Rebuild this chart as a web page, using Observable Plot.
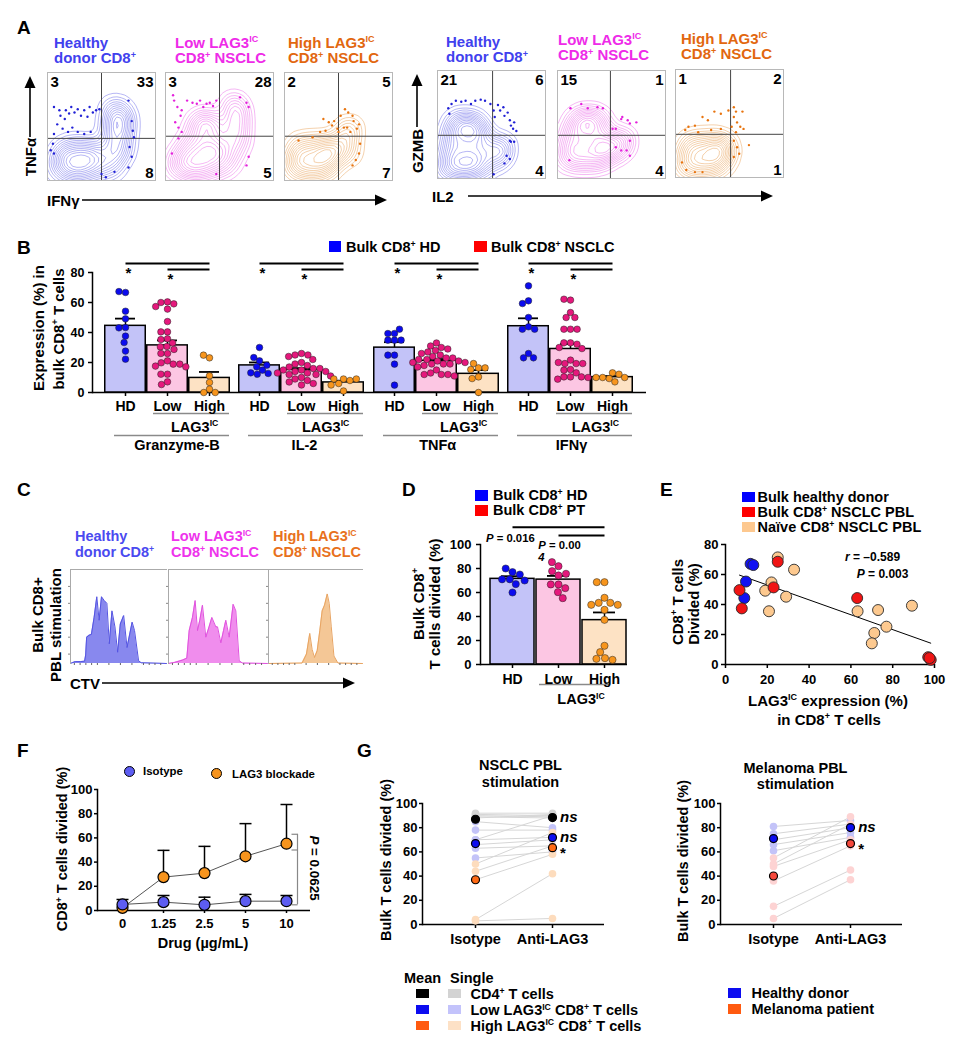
<!DOCTYPE html>
<html><head><meta charset="utf-8">
<script src="https://cdn.jsdelivr.net/npm/d3@7"></script>
<script src="https://cdn.jsdelivr.net/npm/@observablehq/plot@0.6"></script>
<style>
html,body{margin:0;padding:0;background:#fff}
#root{position:relative;width:959px;height:1050px;overflow:hidden;background:#fff}
.t{position:absolute;white-space:nowrap;font-family:"Liberation Sans",Arial,Helvetica,sans-serif;font-weight:bold;color:#000}
.t sup{font-size:60%;vertical-align:baseline;position:relative;top:-0.62em;line-height:0}
.sq{position:absolute}
</style></head><body><div id="root"></div>
<script>
// ================= DATA =================
// Panel A (flow plots, coordinates in % of plot)
const aTopLeft = [3, 3, 2, 21, 15, 1];
const aTopRight = [33, 28, 5, 6, 1, 2];
const aBottomRight = [8, 5, 7, 4, 4, 1];
const aGateX = [50, 50, 50, 51, 49, 51];
const aGateY = [39, 41, 41, 40, 40, 40];
const aCore1 = [[12,12],[22,8],[32,8],[42,10],[14,22],[26,18],[38,20],[20,30],[34,30],[45,24],[62,66],[68,60],[60,52],[70,50],[65,42],[58,34],[68,30],[62,20],[57,12]];
const aCore2 = [[12,15],[22,10],[32,10],[42,12],[18,25],[30,22],[42,25],[25,35],[38,35],[48,30],[55,15],[30,50],[38,55],[45,48],[63,70],[67,60],[64,50],[66,40],[62,28]];
const aCore3 = [[10,12],[20,10],[30,10],[40,12],[12,22],[25,22],[38,22],[45,25],[15,32],[30,32],[42,32],[56,38],[60,48],[58,26]];
const aCore4 = [[10,10],[20,10],[30,10],[40,12],[12,25],[25,25],[38,25],[15,40],[28,42],[40,40],[20,52],[33,50],[56,20],[58,30]];
const aCore5 = [[10,20],[20,18],[32,18],[42,20],[12,32],[25,32],[38,32],[46,30],[15,45],[28,48],[40,45],[22,55],[35,56],[56,28],[60,36]];
const aCore6 = [[10,10],[20,10],[30,10],[40,12],[12,22],[25,22],[38,22],[46,24],[15,32],[30,32],[42,32]];
const aDots1 = [[6,68],[11,65],[12,60],[16,57],[17,65],[20,62],[22,68],[25,63],[28,66],[31,60],[34,65],[37,59],[39,68],[42,63],[45,65],[48,66],[9,52],[14,48],[19,45],[23,49],[28,45],[34,43],[40,45],[6,43],[5,34],[6,25],[3,28],[75,74],[78,55],[79,46],[80,40],[76,31],[78,22],[75,12],[62,8],[50,6],[54,3]];
const aDots2 = [[7,79],[8,74],[11,68],[15,65],[14,60],[20,74],[25,72],[29,71],[32,74],[35,68],[38,71],[41,72],[44,69],[47,74],[9,54],[12,49],[15,45],[69,77],[75,72],[77,68],[12,39],[6,25],[77,22],[75,14],[47,6]];
const aDots3 = [[36,57],[41,54],[44,51],[46,55],[49,48],[52,60],[56,66],[59,63],[63,60],[64,55],[69,52],[67,48],[61,45],[58,49],[38,46],[33,45],[26,40],[13,37],[70,34],[69,25],[66,19],[63,14],[55,49],[50,45]];
const aDots4 = [[44,72],[49,69],[52,63],[53,57],[56,68],[58,63],[61,66],[62,58],[65,61],[67,54],[68,49],[70,46],[71,52],[73,44],[67,35],[68,34],[71,34],[64,21],[67,18],[62,14],[52,4],[10,65],[13,69],[17,72],[22,71],[26,72],[31,69],[35,72],[40,73],[11,60]];
const aDots5 = [[22,69],[28,65],[37,66],[42,65],[12,65],[11,17],[51,46],[54,46],[59,55],[60,57],[65,54],[67,51],[73,52],[59,26],[64,26],[67,21],[67,35],[54,29]];
const aDots6 = [[12,47],[18,48],[25,56],[30,53],[36,61],[42,59],[49,62],[54,65],[56,61],[62,61],[54,56],[57,51],[60,47],[63,45],[52,47],[56,42],[6,14],[10,7],[18,5],[25,5],[54,34],[57,28],[59,22],[54,19],[68,30],[9,44],[21,42],[33,44],[42,45]];

// Panel B (% expression in bulk CD8+ T cells)
const bLevels = ["HD", "Low", "High"];
const bCytokines = ["Granzyme-B", "IL-2", "TNFα", "IFNγ"];
const bGzmHD = [66.7,67.3,54.2,49.1,43.3,43.1,37.6,33.3,27.6,22.2];
const bGzmLow = [60.4,60,59.1,57.3,55.6,47.3,40.4,40.4,35.8,35.3,33,30.7,30.4,28.7,26,26,21.1,19.8,18.9,18.9,17.6,17.1,12.2,12.2,7.1,5.3];
const bGzmHigh = [23.1,24.9,11.1,6.7,2.2,0,0];
const bIl2HD = [21.1,30,23.3,17.1,14.9,18.2,12.2,12.7,13.1];
const bIl2Low = [26,25,25,24,22,20,19,18,17,16,16,15,15,14,14,13,13,12,12,11,10,9,8,7,6,5];
const bIl2High = [9,6,8,9,9,5,1];
const bTnfHD = [39.3,39.3,42.2,34.9,34.9,34.9,24.9,24.9,18.9,4.9];
const bTnfLow = [33,31,30,29,28,27,26,25,24,23,23,22,22,21,21,20,20,19,19,19,18,17,15,13,12,12,12,11];
const bTnfHigh = [16.4,19.3,16.4,15.3,10.4,9.3,0];
const bIfnHD = [71.1,61.1,59.3,50,43.8,42.2,42.2,26,23.1,23.1];
const bIfnLow = [61.6,62.2,53.3,50,50,42.2,42.2,42.2,33.1,33.1,32.2,30,29.3,21.6,19.3,19.3,19.3,20,15.3,14.9,13.1,10.4,10.4,10.4,8.9,10];
const bIfnHigh = [13.1,9.3,12.2,10,10,7.1,10];
const bSigFrom = ["HD", "Low"], bSigTo = ["High", "High"], bSigY = [86, 82];

// Panel C (CTV histograms, % of max)
const cHD = [[0,0],[5,2],[10.5,2],[14.7,2.5],[15.8,9],[16.8,28],[19.3,30],[21.8,31],[24.6,49],[27.4,71],[29.8,46],[32.3,71],[35.1,67],[37.9,64],[40.4,21],[43.2,56],[46.3,39],[49.1,12],[51.9,42],[55.4,51],[58.9,17],[64.2,44],[66.7,35],[70.9,3],[73.7,0.7],[100,0]];
const cLow = [[0,0],[5.7,1],[14.1,3.6],[18.5,5.7],[20.9,35],[24.2,49],[26.9,67],[29.3,35],[31.6,46],[34.3,62],[37.7,28],[41,39],[43.8,49],[47.8,39],[49.5,39],[52.9,22],[55.6,35],[57.9,46],[61.3,28],[65.3,63],[68,56],[71.4,3],[74.7,0.4],[100,0]];
const cHigh = [[0,0],[35.7,0.4],[40.4,10],[43.9,32],[46.4,15],[48.9,6.4],[51.8,13.6],[54.6,35],[57.1,56],[59.6,62],[62.5,74],[64.6,64],[66.8,39],[69.6,8],[73.9,0.4],[100,0]];

// Panel D (% divided)
const dHD = [77,80,71,75,71,67,70,60];
const dLow = [81.9,85.3,74.2,77.8,75.6,66.7,66.7,63.6,60.3,55.3];
const dHigh = [68.6,68.6,55.6,51.4,51.4,49.7,49.7,45.6,37.2,15.6,10.3,5.3,4.7,3.9];
const dSigFrom = ["HD", "Low"], dSigTo = ["High", "High"], dSigY = [114.4, 107.5];

// Panel E ([LAG3 IC %, divided %])
const eHD = [[12,67.1],[13.3,66.3],[9.8,55.3],[9,44.3]];
const ePBL = [[6.7,49.6],[7.8,37.4],[23,51.4],[25,68.5],[63,44.3],[97,4.9],[98.2,3.1],[97.6,4.3]];
const eNaive = [[25,71.4],[22,54.7],[19,49.2],[20.8,35.5],[29,45.2],[32.8,63.2],[63.2,35.5],[73,36.3],[71.2,21],[70,14.1],[77,25.2],[89.2,39.2]];

// Panel F
const fDose = ["0", "1.25", "2.5", "5", "10"];
const fIsoMean = [5.0, 6.9, 4.7, 7.7, 7.7];
const fIsoSD = [4.1, 5.5, 6.3, 5.6, 4.7];
const fLagMean = [2.2, 27.6, 30.9, 44.8, 55.2];
const fLagSD = [0, 22.1, 22.1, 27, 32.4];
const fBracket = [63, 50, 4.7];

// Panel G ([isotype, anti-LAG3] pairs)
const gConds = ["Isotype", "Anti-LAG3"];
const gNsclcCD4 = [[92,92],[91,90],[90,89],[89,88],[88,91],[70,90]];
const gNsclcLow = [[85,80],[78,78],[70,72],[66,70],[63,65],[55,60]];
const gNsclcHigh = [[50,76],[44,65],[37,58],[4,42],[3,5]];
const gNsclcMeanIso = [87, 66.9, 37];
const gNsclcMeanAnti = [88.4, 71.8, 63.5];
const gNsclcSig = ["ns", "ns", "*"];
const gMelHD = [[81,86],[75,83],[70,80],[66,76],[61,72]];
const gMelPt = [[55,89],[50,83],[48,70],[36,65],[15,45],[5,37]];
const gMelMeanIso = [71, 40.1];
const gMelMeanAnti = [80.1, 66.9];
const gMelSig = ["ns", "*"];

// ================= HELPERS =================
const FONT = '"Liberation Sans", Arial, Helvetica, sans-serif';
const root = document.getElementById("root");
function T(html, x, capTop, o = {}) {
  const size = o.size ?? 14.5, lh = o.lh ?? size;
  const d = document.createElement("div");
  d.className = "t"; d.innerHTML = html;
  d.style.fontSize = size + "px"; d.style.lineHeight = lh + "px";
  d.style.left = x + "px"; d.style.top = (capTop - lh / 2 + 0.3695 * size) + "px";
  if (o.color) d.style.color = o.color;
  if (o.align === "center") { d.style.transform = "translateX(-50%)"; d.style.textAlign = "center"; }
  if (o.align === "right") { d.style.transform = "translateX(-100%)"; d.style.textAlign = "right"; }
  root.appendChild(d); return d;
}
function R(html, cx, cy, o = {}) {
  const size = o.size ?? 15;
  const d = document.createElement("div");
  d.className = "t"; d.innerHTML = html;
  d.style.fontSize = size + "px"; d.style.lineHeight = size + "px";
  d.style.left = cx + "px"; d.style.top = cy + "px";
  d.style.transform = `translate(-50%,-50%) rotate(${o.angle ?? -90}deg)`;
  if (o.color) d.style.color = o.color;
  root.appendChild(d); return d;
}
function SQ(x, y, w, h, color) {
  const d = document.createElement("div"); d.className = "sq";
  Object.assign(d.style, {left: x + "px", top: y + "px", width: w + "px", height: h + "px", background: color});
  root.appendChild(d);
}
function CIRC(cx, cy, r, color) {
  const d = document.createElement("div"); d.className = "sq";
  Object.assign(d.style, {left: (cx - r) + "px", top: (cy - r) + "px", width: (2 * r) + "px", height: (2 * r) + "px", background: color, borderRadius: "50%", border: "1px solid #000", boxSizing: "border-box"});
  root.appendChild(d);
}
function chart(frame, m, opts) {
  const [x0, x1, y0, y1] = frame; const [mt, mr, mb, ml] = m;
  const el = Plot.plot(Object.assign({
    width: x1 - x0 + ml + mr, height: y1 - y0 + mt + mb,
    marginTop: mt, marginRight: mr, marginBottom: mb, marginLeft: ml,
    style: {background: "transparent", overflow: "visible", fontFamily: FONT, fontSize: "13px", fontWeight: "bold", color: "#000"}
  }, opts));
  el.style.position = "absolute"; el.style.left = (x0 - ml) + "px"; el.style.top = (y0 - mt) + "px";
  root.appendChild(el); return el;
}
const px = d => d[0], py = d => d[1];
const semTop = v => d3.mean(v) + d3.deviation(v) / Math.sqrt(v.length);

// ================= PANEL A =================
const aCores = [aCore1, aCore2, aCore3, aCore4, aCore5, aCore6];
const aDots = [aDots1, aDots2, aDots3, aDots4, aDots5, aDots6];
const aBoxes = [[47, 72], [165, 72], [284, 72], [437, 70], [557, 70], [675, 69]];
const aLineCol = ["#9797ef", "#f199ef", "#efbd8a", "#9797ef", "#f199ef", "#efbd8a"];
const aDotCol = ["#2222d6", "#e421dc", "#e8740f", "#2222d6", "#e421dc", "#e8740f"];
aCores.forEach((core, i) => {
  const [x0, y0] = aBoxes[i];
  chart([x0, x0 + 108, y0, y0 + 108], [1, 1, 1, 1], {
    x: {domain: [0, 100], axis: null}, y: {domain: [0, 100], axis: null},
    marks: [
      Plot.density(core, {x: px, y: py, bandwidth: 7, thresholds: 14, stroke: aLineCol[i], strokeWidth: 0.7, clip: true}),
      Plot.ruleX([aGateX[i]], {stroke: "#444", strokeWidth: 1}),
      Plot.ruleY([aGateY[i]], {stroke: "#444", strokeWidth: 1}),
      Plot.dot(aDots[i], {x: px, y: py, r: 1.2, fill: aDotCol[i]}),
      Plot.frame({stroke: "#b8b8b8"}),
      Plot.text([aTopLeft[i]], {text: d => String(d), frameAnchor: "top-left", dx: 3, dy: 4, lineAnchor: "top", textAnchor: "start", fontSize: 15}),
      Plot.text([aTopRight[i]], {text: d => String(d), frameAnchor: "top-right", dx: -2, dy: 4, lineAnchor: "top", textAnchor: "end", fontSize: 15}),
      Plot.text([aBottomRight[i]], {text: d => String(d), frameAnchor: "bottom-right", dx: -2, dy: -3, lineAnchor: "bottom", textAnchor: "end", fontSize: 15})
    ]
  });
});
const BL = "#4141ee", MG = "#ee2be8", OR = "#e2670f";
T("A", 17, 20, {size: 19});
T("Healthy<br>donor CD8<sup>+</sup>", 54, 37, {size: 15, lh: 15.5, color: BL});
T("Low LAG3<sup>IC</sup><br>CD8<sup>+</sup> NSCLC", 175, 37, {size: 15, lh: 15.5, color: MG});
T("High LAG3<sup>IC</sup><br>CD8<sup>+</sup> NSCLC", 288, 37, {size: 15, lh: 15.5, color: OR});
T("Healthy<br>donor CD8<sup>+</sup>", 446, 36, {size: 15, lh: 15.5, color: BL});
T("Low LAG3<sup>IC</sup><br>CD8<sup>+</sup> NSCLC", 558, 34, {size: 15, lh: 15.5, color: MG});
T("High LAG3<sup>IC</sup><br>CD8<sup>+</sup> NSCLC", 681, 33, {size: 15, lh: 15.5, color: OR});
R("TNFα", 30, 157, {size: 15});
T("IFNγ", 47, 195, {size: 15});
R("GZMB", 417, 151, {size: 15});
T("IL2", 432, 191, {size: 15});

// ================= PANEL B =================
const bSeries = [[bGzmHD, bGzmLow, bGzmHigh], [bIl2HD, bIl2Low, bIl2High], [bTnfHD, bTnfLow, bTnfHigh], [bIfnHD, bIfnLow, bIfnHigh]];
const barCols = ["#c3c3f8", "#fcc6e3", "#fde2c4"];
const dotCols = ["#0b0bee", "#e5187c", "#f7951d"];
const bSig = bSigFrom.map((f, i) => ({from: f, to: bSigTo[i], y: bSigY[i]}));
chart([92, 646, 272, 392], [5, 5, 5, 60], {
  y: {domain: [0, 80], axis: null},
  marks: [
    Plot.ruleY([0], {strokeWidth: 1.5}),
    Plot.frame({anchor: "left", strokeWidth: 1.5}),
    Plot.axisY({ticks: [0, 20, 40, 60, 80], tickSize: 4, tickPadding: 4, fontSize: 12.5, label: null, strokeWidth: 1.5})
  ]
});
const bFrames = [[103, 231], [237, 365], [372, 499], [506, 634]];
bSeries.forEach((series, gi) => {
  const rows = series.flatMap((vals, li) => vals.map(v => ({level: bLevels[li], value: v})));
  const [x0, x1] = bFrames[gi];
  chart([x0, x1, 272, 392], [40, 3, 60, 3], {
    x: {type: "band", domain: bLevels, padding: 0, axis: null},
    y: {domain: [0, 80], axis: null},
    color: {domain: bLevels, range: barCols},
    marks: [
      Plot.barY(rows, Plot.groupX({y: "mean"}, {x: "level", y: "value", fill: "level", stroke: "#000", strokeWidth: 1.5, insetLeft: 0.75, insetRight: 0.75})),
      Plot.ruleX(rows, Plot.groupX({y1: "mean", y2: semTop}, {x: "level", y: "value", strokeWidth: 1.5})),
      Plot.tickY(rows, Plot.groupX({y: semTop}, {x: "level", y: "value", strokeWidth: 1.8, insetLeft: 11, insetRight: 11})),
      Plot.link(bSig, {x1: "from", x2: "to", y1: "y", y2: "y", strokeWidth: 2}),
      Plot.text(bSig, {x: "from", y: "y", text: () => "*", dx: 3, dy: 4, lineAnchor: "top", fontSize: 15}),
      Plot.ruleY([0], {x1: () => "Low", x2: () => "High", dy: 21, insetLeft: 7, insetRight: 1, stroke: "#8a8a8a", strokeWidth: 1.5}),
      Plot.ruleY([0], {x1: () => "HD", x2: () => "High", dy: 43, insetLeft: 10, insetRight: 1, stroke: "#8a8a8a", strokeWidth: 1.5}),
      Plot.axisX({tickSize: 4, tickPadding: 5, fontSize: 14, label: null, strokeWidth: 1.5})
    ]
  });
  chart([x0, x1, 272, 392], [5, 0, 5, 0], {
    fx: {domain: bLevels, padding: 0, axis: null},
    y: {domain: [0, 80], axis: null},
    color: {domain: bLevels, range: dotCols},
    marks: [
      Plot.dot(rows, Plot.dodgeX({anchor: "middle", padding: 0}, {fx: "level", y: "value", fill: "level", r: 3.3, stroke: "#222", strokeWidth: 0.5}))
    ]
  });
});
T("B", 17, 240, {size: 19});
SQ(329, 241, 12, 11, "#0000ff"); T("Bulk CD8<sup>+</sup> HD", 346, 242);
SQ(474, 241, 13, 11, "#ff0000"); T("Bulk CD8<sup>+</sup> NSCLC", 491, 242);
R("Expression (%) in", 37.5, 328, {size: 15});
R("bulk CD8<sup>+</sup> T cells", 58, 329, {size: 15});
const bLagX = [171, 302, 440, 571.7], bCytX = [177, 304.5, 437.7, 571.5];
bCytokines.forEach((c, i) => {
  T("LAG3<sup>IC</sup>", bLagX[i], 421.7);
  T(c, bCytX[i], 440, {align: "center"});
});

// ================= PANEL C =================
const cHists = [cHD, cLow, cHigh];
const cBoxes = [[70, 166], [168, 267], [268, 362]];
const cFill = ["#8888ee", "#f08ded", "#f4c796"], cLine = ["#5555e2", "#e052de", "#e8a462"];
cHists.forEach((h, i) => {
  chart([cBoxes[i][0], cBoxes[i][1], 569, 663], [1, 1, 3, 3], {
    x: {domain: [0, 100], axis: null}, y: {domain: [0, 100], axis: null},
    marks: [
      Plot.areaY(h, {x: px, y: py, fill: cFill[i]}),
      Plot.lineY(h, {x: px, y: py, stroke: cLine[i], strokeWidth: 1}),
      Plot.frame({anchor: "top", stroke: "#aaa"}),
      Plot.frame({anchor: "left", stroke: "#aaa"}),
      Plot.axisX({ticks: [4, 10, 16, 22, 28, 40, 52, 64, 76, 82, 88, 94], tickSize: 2, tickFormat: () => "", label: null, stroke: "#666"}),
      Plot.axisY({ticks: [10, 28, 46, 64, 82], tickSize: 2, tickFormat: () => "", label: null, stroke: "#888"})
    ]
  });
});
T("C", 17, 482, {size: 19});
T("Healthy<br>donor CD8<sup>+</sup>", 75, 531, {size: 14.5, lh: 16, color: "#4a4af0"});
T("Low LAG3<sup>IC</sup><br>CD8<sup>+</sup> NSCLC", 171, 531, {size: 14.5, lh: 16, color: "#ee33ec"});
T("High LAG3<sup>IC</sup><br>CD8<sup>+</sup> NSCLC", 273, 531, {size: 14.5, lh: 16, color: "#e8711c"});
R("Bulk CD8+", 37, 615, {size: 15});
R("PBL stimulation", 55, 625, {size: 15});
T("CTV", 70, 678, {size: 15});

// ================= PANEL D =================
const dRows = [dHD, dLow, dHigh].flatMap((vals, li) => vals.map(v => ({level: bLevels[li], value: v})));
const dSig = dSigFrom.map((f, i) => ({from: f, to: dSigTo[i], y: dSigY[i]}));
chart([480, 627, 544, 664], [40, 5, 60, 60], {
  x: {type: "band", domain: bLevels, padding: 0, range: [69, 207], axis: null},
  y: {domain: [0, 100], axis: null},
  color: {domain: bLevels, range: barCols},
  marks: [
    Plot.barY(dRows, Plot.groupX({y: "mean"}, {x: "level", y: "value", fill: "level", stroke: "#000", strokeWidth: 1.5, insetLeft: 1, insetRight: 1})),
    Plot.ruleX(dRows, Plot.groupX({y1: "mean", y2: semTop}, {x: "level", y: "value", strokeWidth: 1.5})),
    Plot.tickY(dRows, Plot.groupX({y: semTop}, {x: "level", y: "value", strokeWidth: 1.8, insetLeft: 12, insetRight: 12})),
    Plot.ruleY([0], {strokeWidth: 1.5}),
    Plot.frame({anchor: "left", strokeWidth: 1.5}),
    Plot.axisY({ticks: [0, 20, 40, 60, 80, 100], tickSize: 4, tickPadding: 5, fontSize: 13, label: null, strokeWidth: 1.5}),
    Plot.link(dSig, {x1: "from", x2: "to", y1: "y", y2: "y", strokeWidth: 2}),
    Plot.ruleY([0], {x1: () => "Low", x2: () => "High", dy: 20, insetLeft: 4, insetRight: 17, stroke: "#8a8a8a", strokeWidth: 1.5}),
    Plot.axisX({tickSize: 4, tickPadding: 6, fontSize: 14, label: null, strokeWidth: 1.5})
  ]
});
chart([489, 627, 544, 664], [5, 0, 5, 0], {
  fx: {domain: bLevels, padding: 0, axis: null},
  y: {domain: [0, 100], axis: null},
  color: {domain: bLevels, range: dotCols},
  marks: [Plot.dot(dRows, Plot.dodgeX({anchor: "middle", padding: 0.5}, {fx: "level", y: "value", fill: "level", r: 3.6, stroke: "#222", strokeWidth: 0.5}))]
});
T("D", 402, 482, {size: 19});
SQ(475, 490, 13, 11, "#0000ff"); T("Bulk CD8<sup>+</sup> HD", 493, 490);
SQ(475, 505, 13, 11, "#ff0000"); T("Bulk CD8<sup>+</sup> PT", 493, 505);
R("Bulk CD8<sup>+</sup>", 417.5, 604, {size: 15});
R("T cells divided (%)", 434, 604, {size: 15});
T("<i>P</i> = 0.016", 486, 534, {size: 11.3});
T("<i>P</i> = 0.00", 538.3, 541, {size: 11.3});
T("<i>4</i>", 538.3, 553.3, {size: 11.3});
T("LAG3<sup>IC</sup>", 557.3, 694);

// ================= PANEL E =================
const eRows = [
  ...eNaive.map(d => ({x: d[0], y: d[1], g: "naive"})),
  ...eHD.map(d => ({x: d[0], y: d[1], g: "hd"})),
  ...ePBL.map(d => ({x: d[0], y: d[1], g: "pbl"}))
];
chart([725, 934, 544, 664], [5, 12, 30, 40], {
  x: {domain: [0, 100], axis: null}, y: {domain: [0, 80], axis: null},
  color: {domain: ["hd", "pbl", "naive"], range: ["#1212f2", "#f01414", "#fdc98f"]},
  marks: [
    Plot.ruleY([0], {strokeWidth: 1.5}),
    Plot.frame({anchor: "left", strokeWidth: 1.5}),
    Plot.axisX({ticks: [0, 20, 40, 60, 80, 100], tickSize: 4, tickPadding: 6, fontSize: 13, label: null, strokeWidth: 1.5}),
    Plot.axisY({ticks: [0, 20, 40, 60, 80], tickSize: 4, tickPadding: 3, fontSize: 13, label: null, strokeWidth: 1.5}),
    Plot.linearRegressionY(eRows, {x: "x", y: "y", stroke: "#000", strokeWidth: 1, ci: 0}),
    Plot.dot(eRows, {x: "x", y: "y", fill: "g", r: 5.5, stroke: "#2a2a2a", strokeWidth: 0.9})
  ]
});
T("E", 660, 482, {size: 19});
SQ(742, 491.5, 13, 10, "#0000ff"); T("Bulk healthy donor", 757.5, 492);
SQ(742, 506.5, 13, 10, "#ff0000"); T("Bulk CD8<sup>+</sup> NSCLC PBL", 757.5, 507);
SQ(742, 521.5, 13, 10, "#fdc88f"); T("Naïve CD8<sup>+</sup> NSCLC PBL", 757.5, 522);
R("CD8<sup>+</sup> T cells", 676.5, 602, {size: 15});
R("Divided (%)", 693, 604, {size: 15});
T("LAG3<sup>IC</sup> expression (%)", 828, 695, {align: "center", size: 15});
T("in CD8<sup>+</sup> T cells", 829, 714, {align: "center", size: 15});
T("<i>r</i> = –0.589", 845, 552.3, {size: 12});
T("<i>P</i> = 0.003", 856.7, 569.3, {size: 12});

// ================= PANEL F =================
const fIso = fDose.map((d, i) => ({dose: d, mean: fIsoMean[i], sd: fIsoSD[i]}));
const fLag = fDose.map((d, i) => ({dose: d, mean: fLagMean[i], sd: fLagSD[i]}));
const capSym = {draw(ctx) { ctx.moveTo(-6, 0); ctx.lineTo(6, 0); }};
const halfCap = {draw(ctx) { ctx.moveTo(-3, 0); ctx.lineTo(3, 0); }};
chart([97, 310, 789, 910], [5, 5, 30, 40], {
  x: {type: "point", domain: fDose, padding: 0.55, axis: null},
  y: {domain: [0, 100], axis: null},
  marks: [
    Plot.ruleY([0], {strokeWidth: 1.5}),
    Plot.frame({anchor: "left", strokeWidth: 1.5}),
    Plot.axisY({ticks: [0, 20, 40, 60, 80, 100], tickSize: 3, tickPadding: 2, fontSize: 13, label: null, strokeWidth: 1.5}),
    Plot.axisX({tickSize: 3, tickPadding: 5, fontSize: 13, label: null, strokeWidth: 1.5}),
    Plot.lineY(fLag, {x: "dose", y: "mean", stroke: "#555", strokeWidth: 1}),
    Plot.lineY(fIso, {x: "dose", y: "mean", stroke: "#555", strokeWidth: 1}),
    Plot.ruleX(fLag.filter(d => d.sd > 0), {x: "dose", y1: "mean", y2: d => d.mean + d.sd, strokeWidth: 1.5}),
    Plot.dot(fLag.filter(d => d.sd > 0), {x: "dose", y: d => d.mean + d.sd, symbol: capSym, fill: "none", stroke: "#000", strokeWidth: 1.5}),
    Plot.ruleX(fIso, {x: "dose", y1: "mean", y2: d => d.mean + d.sd, strokeWidth: 1.5}),
    Plot.dot(fIso, {x: "dose", y: d => d.mean + d.sd, symbol: capSym, fill: "none", stroke: "#000", strokeWidth: 1.5}),
    Plot.dot(fLag, {x: "dose", y: "mean", r: 5.5, fill: "#f7941d", stroke: "#000", strokeWidth: 1.2}),
    Plot.dot(fIso, {x: "dose", y: "mean", r: 5.5, fill: "#5d5df2", stroke: "#000", strokeWidth: 1.2}),
    Plot.ruleX([fDose[4]], {y1: () => fBracket[0], y2: () => fBracket[2], dx: 11, stroke: "#888", strokeWidth: 1.2}),
    Plot.dot(fBracket, {x: () => fDose[4], y: d => d, symbol: halfCap, dx: 8, fill: "none", stroke: "#888", strokeWidth: 1.2})
  ]
});
T("F", 17, 743, {size: 19});
CIRC(129, 771.7, 5.5, "#5d5df2"); T("Isotype", 143, 767.3, {size: 11.4});
CIRC(216.7, 773.3, 5.5, "#f7941d"); T("LAG3 blockade", 232, 770, {size: 11.4});
R("CD8<sup>+</sup> T cells divided (%)", 61.5, 848.5, {size: 14.5});
T("Drug (µg/mL)", 203, 937.5, {align: "center"});
R("<i>P</i> = 0.0625", 314, 868, {size: 13.4, angle: 90});

// ================= PANEL G =================
function gChart(frame, singles, singleCols, meanIso, meanAnti, meanCols, sig, sigDx) {
  const pairs = singles.flatMap((grp, gi) => grp.map(([iso, anti]) => ({iso, anti, c: singleCols[gi]})));
  const long = pairs.flatMap(p => [{cond: gConds[0], v: p.iso, c: p.c}, {cond: gConds[1], v: p.anti, c: p.c}]);
  const means = meanIso.map((v, i) => ({iso: v, anti: meanAnti[i], c: meanCols[i], s: sig[i]}));
  const meanLong = means.flatMap(p => [{cond: gConds[0], v: p.iso, c: p.c}, {cond: gConds[1], v: p.anti, c: p.c}]);
  chart(frame, [5, 5, 30, 40], {
    x: {type: "point", domain: gConds, padding: 0.667, axis: null},
    y: {domain: [0, 100], axis: null},
    color: {type: "identity"},
    marks: [
      Plot.ruleY([0], {strokeWidth: 1.5}),
      Plot.frame({anchor: "left", strokeWidth: 1.5}),
      Plot.axisY({ticks: [0, 20, 40, 60, 80, 100], tickSize: 3, tickPadding: 2, fontSize: 13, label: null, strokeWidth: 1.5}),
      Plot.axisX({tickSize: 4, tickPadding: 5, fontSize: 14.5, label: null, strokeWidth: 1.5}),
      Plot.link(pairs, {x1: () => gConds[0], x2: () => gConds[1], y1: "iso", y2: "anti", stroke: "#d6d6d6", strokeWidth: 1}),
      Plot.dot(long, {x: "cond", y: "v", fill: "c", r: 3.8}),
      Plot.dot(meanLong, {x: "cond", y: "v", fill: "c", r: 4, stroke: "#000", strokeWidth: 1.2}),
      Plot.text(means.filter(d => d.s === "ns"), {x: () => gConds[1], y: "anti", text: "s", dx: sigDx, textAnchor: "start", fontStyle: "italic", fontSize: 15}),
      Plot.text(means.filter(d => d.s === "*"), {x: () => gConds[1], y: "anti", text: "s", dx: sigDx, dy: 5.5, textAnchor: "start", fontSize: 15})
    ]
  });
}
gChart([422, 604, 803, 924], [gNsclcCD4, gNsclcLow, gNsclcHigh], ["#d4d4d4", "#c3c3f8", "#fddcbd"], gNsclcMeanIso, gNsclcMeanAnti, ["#000000", "#0c0cf0", "#ff6a14"], gNsclcSig, 7.5);
gChart([720, 902, 803, 924], [gMelHD, gMelPt], ["#c3c3f8", "#fdd3d3"], gMelMeanIso, gMelMeanAnti, ["#0c0cf0", "#f5493c"], gMelSig, 7.7);
T("G", 357, 743, {size: 19});
T("NSCLC PBL<br>stimulation", 520.5, 760, {align: "center", size: 14.5, lh: 16.6});
T("Melanoma PBL<br>stimulation", 795.5, 762.7, {align: "center", size: 14.5, lh: 16.6});
R("Bulk T cells divided (%)", 386, 860, {size: 14.5});
R("Bulk T cells divided (%)", 682.5, 860.5, {size: 14.5});
T("Mean", 404, 972.7); T("Single", 450, 972.7);
const gRowsY = [989.3, 1005, 1020.5];
const gMeanCols = ["#000000", "#0c0cf0", "#ff5a10"], gSingleCols = ["#d3d3d3", "#c3c3fb", "#fde1c6"];
const gLegLabels = ["CD4<sup>+</sup> T cells", "Low LAG3<sup>IC</sup> CD8<sup>+</sup> T cells", "High LAG3<sup>IC</sup> CD8<sup>+</sup> T cells"];
gRowsY.forEach((y, i) => {
  SQ(416, y, 13, 9, gMeanCols[i]); SQ(447.5, y, 13, 9, gSingleCols[i]);
  T(gLegLabels[i], 470.5, y);
});
SQ(727.5, 988.3, 13.5, 10, "#0c0cf0"); T("Healthy donor", 751.5, 988.3);
SQ(727.5, 1004.3, 13.5, 10, "#ff5a10"); T("Melanoma patient", 751.5, 1004.3);

// ================= ARROWS (axis decorations) =================
const ov = d3.select(root).append("svg").attr("width", 959).attr("height", 1050)
  .style("position", "absolute").style("left", 0).style("top", 0).style("pointer-events", "none");
function arrow(x1, y1, x2, y2) {
  const a = Math.atan2(y2 - y1, x2 - x1), L = 12, W = 5.5;
  const bx = x2 - L * Math.cos(a), by = y2 - L * Math.sin(a);
  ov.append("line").attr("x1", x1).attr("y1", y1).attr("x2", bx).attr("y2", by).attr("stroke", "#000").attr("stroke-width", 1.6);
  ov.append("path").attr("d", `M${x2},${y2}L${bx - W * Math.sin(a)},${by + W * Math.cos(a)}L${bx + W * Math.sin(a)},${by - W * Math.cos(a)}Z`).attr("fill", "#000");
}
arrow(30, 137, 30, 76);
arrow(82, 200, 387, 200);
arrow(417, 127, 417, 74);
arrow(468, 196, 773, 196);
arrow(102, 683, 355, 683);
</script></body></html>
